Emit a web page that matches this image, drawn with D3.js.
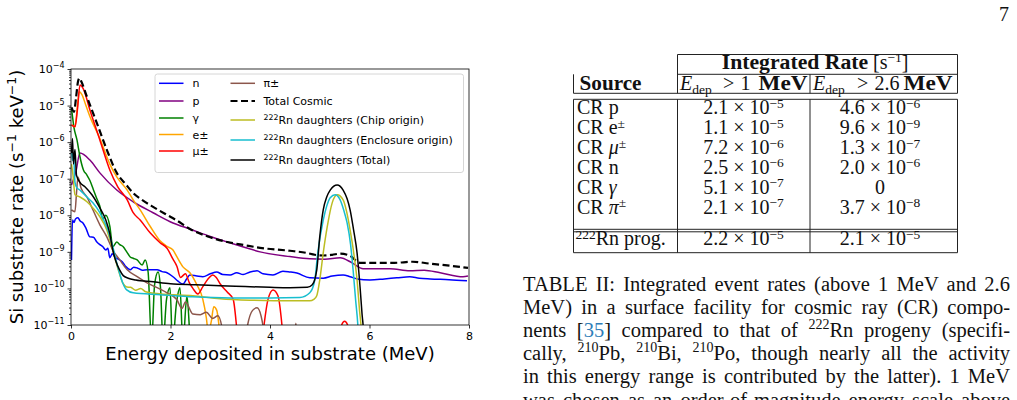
<!DOCTYPE html>
<html>
<head>
<meta charset="utf-8">
<script src="https://cdn.jsdelivr.net/npm/d3@7/dist/d3.min.js"></script>
<style>
  body { margin: 0; background: #fff; }
  svg { display: block; }
</style>
</head>
<body>
<div id="page"></div>
<script>
// ---- chart data: [energy deposited (MeV), log10 of rate (s^-1 keV^-1)] ----
// -12 means "below the bottom of the axis"
var nData = [[0.01,-9.22],[0.03,-8.13],[0.06,-8.2],[0.09,-8.1],[0.14,-8.07],[0.18,-8.15],[0.24,-8.21],[0.3,-8.35],[0.38,-8.59],[0.45,-8.6],[0.52,-8.73],[0.58,-8.8],[0.64,-8.86],[0.7,-8.95],[0.74,-8.9],[0.78,-9.16],[0.83,-9.05],[0.88,-9.14],[0.95,-9.2],[1.03,-9.27],[1.1,-9.4],[1.19,-9.49],[1.26,-9.42],[1.33,-9.44],[1.43,-9.5],[1.53,-9.49],[1.63,-9.49],[1.73,-9.49],[1.83,-9.54],[1.93,-9.57],[2.05,-9.68],[2.15,-9.8],[2.25,-9.88],[2.32,-9.75],[2.39,-9.63],[2.53,-9.66],[2.65,-9.68],[2.8,-9.6],[2.93,-9.55],[3.05,-9.62],[3.2,-9.63],[3.33,-9.57],[3.46,-9.62],[3.6,-9.55],[3.74,-9.52],[3.86,-9.6],[4.06,-9.63],[4.26,-9.53],[4.4,-9.55],[4.54,-9.58],[4.8,-9.71],[5.07,-9.72],[5.25,-9.66],[5.47,-9.63],[5.61,-9.68],[5.75,-9.74],[6.01,-9.77],[6.3,-9.74],[6.55,-9.71],[6.81,-9.68],[7.0,-9.72],[7.22,-9.74],[7.6,-9.76],[7.96,-9.79]];
var pData = [[0.01,-7.17],[0.1,-6.8],[0.18,-6.3],[0.38,-6.49],[0.58,-6.84],[0.92,-7.31],[1.25,-7.63],[1.65,-7.93],[2.05,-8.21],[2.4,-8.38],[2.8,-8.58],[3.14,-8.73],[3.5,-8.88],[3.8,-9.0],[4.4,-9.13],[4.8,-9.19],[5.1,-9.2],[5.41,-9.16],[5.65,-9.3],[5.87,-9.46],[6.41,-9.46],[6.81,-9.52],[7.1,-9.5],[7.42,-9.57],[7.88,-9.68],[7.98,-9.66]];
var gammaData = [[0.01,-5.07],[0.06,-5.6],[0.12,-5.94],[0.18,-6.4],[0.25,-6.76],[0.32,-6.9],[0.38,-7.05],[0.45,-7.3],[0.52,-7.55],[0.58,-7.75],[0.64,-8.1],[0.7,-8.0],[0.78,-8.3],[0.84,-8.86],[0.92,-8.73],[0.98,-8.8],[1.05,-8.86],[1.12,-9.0],[1.19,-9.14],[1.26,-9.18],[1.33,-9.22],[1.43,-9.36],[1.49,-9.22],[1.55,-9.55],[1.62,-11.5],[1.68,-9.9],[1.75,-9.55],[1.8,-10.0],[1.85,-11.5],[1.92,-10.3],[1.99,-9.98],[2.04,-11.5],[2.12,-10.4],[2.19,-9.98],[2.25,-11.5],[2.33,-10.2],[2.4,-11.5],[2.45,-12],[8,-12]];
var eData = [[0.01,-5.53],[0.08,-5.58],[0.13,-5.0],[0.17,-4.62],[0.22,-4.7],[0.3,-5.0],[0.38,-5.3],[0.58,-5.9],[0.78,-6.6],[0.92,-6.95],[1.13,-7.31],[1.25,-7.58],[1.39,-7.85],[1.59,-8.3],[1.79,-8.7],[1.93,-8.85],[2.05,-8.95],[2.13,-9.14],[2.25,-9.41],[2.39,-9.57],[2.53,-9.9],[2.65,-10.3],[2.72,-10.8],[2.76,-11.2],[2.82,-10.9],[2.87,-10.5],[2.93,-10.6],[2.99,-11.2],[3.05,-12],[8,-12]];
var muData = [[0.01,-5.53],[0.08,-5.58],[0.13,-5.1],[0.18,-4.44],[0.25,-4.55],[0.38,-5.12],[0.58,-5.94],[0.78,-6.76],[0.94,-7.22],[1.13,-7.58],[1.25,-7.93],[1.39,-8.13],[1.59,-8.48],[1.79,-8.75],[1.93,-8.9],[2.05,-9.2],[2.13,-9.4],[2.2,-9.7],[2.3,-9.6],[2.38,-9.85],[2.45,-10.0],[2.55,-10.15],[2.65,-9.95],[2.75,-9.75],[2.85,-9.63],[2.92,-9.7],[3.0,-9.88],[3.14,-10.1],[3.26,-10.3],[3.34,-11.2],[3.4,-12],[3.8,-12],[3.88,-11.0],[3.96,-10.3],[4.06,-10.04],[4.16,-10.2],[4.24,-11.0],[4.3,-12],[5.38,-12],[5.44,-11.0],[5.5,-10.9],[5.56,-11.0],[5.62,-12],[8,-12]];
var piData = [[0.01,-7.85],[0.08,-7.9],[0.11,-7.4],[0.14,-6.95],[0.2,-7.25],[0.32,-7.5],[0.44,-7.85],[0.58,-8.26],[0.72,-8.59],[0.84,-8.95],[0.98,-9.22],[1.13,-9.49],[1.33,-9.68],[1.53,-9.85],[1.73,-9.98],[1.93,-10.12],[2.13,-10.31],[2.23,-10.55],[2.3,-10.37],[2.45,-10.7],[2.6,-10.72],[2.72,-10.65],[2.85,-10.82],[2.95,-10.75],[3.05,-11.2],[3.1,-12],[3.45,-12],[3.55,-11.0],[3.65,-10.6],[3.74,-10.53],[3.82,-10.75],[3.88,-11.2],[3.95,-12],[4.45,-12],[4.52,-10.95],[4.58,-12],[8,-12]];
var cosmicData = [[0.01,-5.05],[0.06,-5.17],[0.1,-4.8],[0.14,-4.35],[0.17,-4.25],[0.21,-4.35],[0.32,-4.76],[0.52,-5.48],[0.72,-6.21],[0.92,-6.84],[1.1,-7.15],[1.25,-7.39],[1.45,-7.6],[1.65,-7.77],[1.93,-7.99],[2.1,-8.12],[2.4,-8.38],[2.75,-8.58],[3.14,-8.73],[3.5,-8.82],[3.8,-8.89],[4.4,-8.97],[4.74,-9.03],[4.9,-9.08],[5.07,-9.1],[5.25,-9.08],[5.41,-9.05],[5.61,-9.11],[5.81,-9.3],[6.15,-9.3],[6.5,-9.3],[6.87,-9.27],[7.2,-9.32],[7.42,-9.35],[7.98,-9.44]];
var rnChipData = [[0.01,-6.6],[0.04,-6.9],[0.08,-7.44],[0.18,-7.5],[0.32,-7.63],[0.44,-7.8],[0.58,-8.04],[0.72,-8.4],[0.84,-8.95],[0.95,-9.49],[1.04,-9.85],[1.12,-9.96],[1.2,-9.97],[1.3,-10.05],[1.4,-10.0],[1.5,-10.09],[1.8,-10.15],[2.45,-10.2],[3.0,-10.28],[3.6,-10.32],[4.5,-10.34],[4.8,-10.34],[4.88,-10.3],[4.94,-10.2],[5.0,-9.77],[5.07,-9.03],[5.15,-8.32],[5.25,-7.66],[5.35,-7.44],[5.47,-7.58],[5.54,-7.9],[5.61,-8.4],[5.68,-9.0],[5.75,-9.77],[5.8,-10.6],[5.84,-11.2],[5.87,-12],[8,-12]];
var rnEnclData = [[0.01,-6.15],[0.03,-6.5],[0.05,-6.3],[0.08,-7.1],[0.12,-7.25],[0.18,-7.31],[0.32,-7.5],[0.44,-7.66],[0.58,-7.93],[0.72,-8.32],[0.84,-8.86],[0.94,-9.41],[1.04,-9.85],[1.12,-10.04],[1.25,-10.12],[1.8,-10.17],[2.45,-10.23],[3.2,-10.26],[4.0,-10.26],[4.6,-10.25],[4.8,-10.12],[4.9,-9.77],[4.96,-9.03],[5.07,-8.13],[5.14,-7.75],[5.21,-7.52],[5.31,-7.44],[5.41,-7.58],[5.48,-7.85],[5.55,-8.21],[5.62,-8.8],[5.67,-9.49],[5.72,-10.3],[5.77,-11.1],[5.8,-12],[8,-12]];
var rnTotalData = [[0.01,-6.3],[0.03,-5.9],[0.05,-6.6],[0.08,-6.2],[0.11,-6.9],[0.18,-7.1],[0.28,-7.22],[0.42,-7.44],[0.58,-7.8],[0.7,-8.13],[0.78,-8.5],[0.84,-8.95],[0.9,-9.25],[0.98,-9.5],[1.05,-9.65],[1.15,-9.72],[1.3,-9.77],[1.65,-9.82],[2.0,-9.87],[2.5,-9.9],[3.0,-9.93],[3.5,-9.95],[4.0,-9.97],[4.4,-9.98],[4.75,-9.97],[4.85,-9.9],[4.94,-9.49],[5.0,-8.59],[5.07,-7.85],[5.14,-7.5],[5.21,-7.31],[5.35,-7.17],[5.47,-7.31],[5.55,-7.55],[5.61,-7.85],[5.68,-8.4],[5.75,-9.03],[5.81,-9.96],[5.85,-10.7],[5.88,-11.2],[5.9,-12],[8,-12]];

var seriesData = [nData, pData, gammaData, eData, muData, piData, cosmicData, rnChipData, rnEnclData, rnTotalData];
var seriesLabels = ["n", "p", "γ", "e±", "μ±", "π±", "Total Cosmic", "Rn daughters (Chip origin)", "Rn daughters (Enclosure origin)", "Rn daughters (Total)"];
var seriesIsotope = [null, null, null, null, null, null, null, "222", "222", "222"];
var seriesColors = ["#0000ff", "#800080", "#008000", "#ffa500", "#ff0000", "#8c564b", "#000000", "#bcbd22", "#17becf", "#000000"];

var xTicks = [0, 2, 4, 6, 8];
var yDecades = [-11, -10, -9, -8, -7, -6, -5, -4];

// ---- table data ----
var tableSources = ["p", "e", "μ", "n", "γ", "π", "Rn prog."];
var rateAbove1 = [2.1e-5, 1.1e-5, 7.2e-6, 2.5e-6, 5.1e-7, 2.1e-7, 2.2e-5];
var rateAbove26 = [4.6e-6, 9.6e-9, 1.3e-7, 2.0e-6, 0, 3.7e-8, 2.1e-5];

var W = 1017, H = 400;
var svg = d3.select("#page").append("svg")
    .attr("width", W)
    .attr("height", H);
svg.append("rect").attr("width", W).attr("height", H).attr("fill", "#fff");

// ================= chart =================
var plot = { left: 71, right: 469, top: 69, bottom: 325 };

var x = d3.scaleLinear()
    .domain([0, 8])
    .range([plot.left, plot.right]);

var y = d3.scaleLog()
    .domain([1e-11, 1e-4])
    .range([plot.bottom, plot.top]);

var chart = svg.append("g")
    .attr("font-family", "DejaVu Sans");

chart.append("clipPath").attr("id", "plotClip")
  .append("rect")
    .attr("x", plot.left).attr("y", plot.top)
    .attr("width", plot.right - plot.left)
    .attr("height", plot.bottom - plot.top);

var line = d3.line()
    .x(function(d){ return x(d[0]); })
    .y(function(d){ return y(Math.pow(10, d[1])); })
    .curve(d3.curveMonotoneX);

var lines = chart.append("g").attr("clip-path", "url(#plotClip)");
seriesData.forEach(function(data, i){
    lines.append("path")
        .attr("d", line(data))
        .attr("fill", "none")
        .attr("stroke", seriesColors[i])
        .attr("stroke-width", i === 6 ? 2.2 : 1.5)
        .attr("stroke-dasharray", i === 6 ? "7,3.5" : null)
        .attr("stroke-linejoin", "round");
});

// X axis
var xAxisCall = d3.axisBottom(x)
    .tickValues(xTicks)
    .tickSize(3.5)
    .tickSizeOuter(0)
    .tickPadding(3.5)
    .tickFormat(d3.format("d"));
var xAxisGroup = chart.append("g")
    .attr("transform", "translate(0," + plot.bottom + ")")
    .call(xAxisCall);

// Y axis, major
var yAxisCall = d3.axisLeft(y)
    .tickValues(yDecades.map(function(e){ return Math.pow(10, e); }))
    .tickSize(3.5)
    .tickSizeOuter(0)
    .tickPadding(3);
var yAxisGroup = chart.append("g")
    .attr("transform", "translate(" + plot.left + ",0)")
    .call(yAxisCall);

// Y axis, minor
var minor = [];
yDecades.slice(0, -1).forEach(function(e){
    for (var k = 2; k <= 9; k++) minor.push(k * Math.pow(10, e));
});
chart.append("g")
    .attr("transform", "translate(" + plot.left + ",0)")
    .call(d3.axisLeft(y).tickValues(minor).tickSize(2).tickSizeOuter(0).tickFormat(""))
    .select(".domain").remove();

[xAxisGroup, yAxisGroup].forEach(function(gr){
    gr.attr("font-family", "DejaVu Sans").attr("font-size", 11);
    gr.select(".domain").remove();
    gr.selectAll(".tick text").attr("fill", "#000");
});
chart.selectAll(".tick line").attr("stroke", "#000").attr("stroke-width", 0.8);

yAxisGroup.selectAll(".tick text").each(function(d){
    var t = d3.select(this);
    var e = Math.round(Math.log10(d));
    t.text(null);
    t.append("tspan").text("10");
    t.append("tspan").attr("dy", -5).attr("font-size", 8).text("\u2212" + Math.abs(e));
});

// frame
chart.append("rect")
    .attr("x", plot.left).attr("y", plot.top)
    .attr("width", plot.right - plot.left)
    .attr("height", plot.bottom - plot.top)
    .attr("fill", "none")
    .attr("stroke", "#000")
    .attr("stroke-width", 0.8);

// axis labels
chart.append("text")
    .attr("x", (plot.left + plot.right) / 2)
    .attr("y", 360)
    .attr("text-anchor", "middle")
    .attr("font-size", 18)
    .text("Energy deposited in substrate (MeV)");

var yLabel = chart.append("text")
    .attr("transform", "translate(23," + ((plot.top + plot.bottom) / 2) + ") rotate(-90)")
    .attr("text-anchor", "middle")
    .attr("font-size", 18);
yLabel.append("tspan").text("Si substrate rate (s");
yLabel.append("tspan").attr("dy", -7).attr("font-size", 12.5).text("\u22121");
yLabel.append("tspan").attr("dy", 7).text(" keV");
yLabel.append("tspan").attr("dy", -7).attr("font-size", 12.5).text("\u22121");
yLabel.append("tspan").attr("dy", 7).text(")");

// legend
var legend = chart.append("g");
legend.append("rect")
    .attr("x", 155).attr("y", 74)
    .attr("width", 308.5).attr("height", 98.5)
    .attr("rx", 2.5)
    .attr("fill", "#fff").attr("fill-opacity", 0.8)
    .attr("stroke", "#cccccc").attr("stroke-width", 0.8);

var legendCols = [
    { lineX: 159, textX: 192.5, rows: [83.3, 101, 118, 134.5, 151] },
    { lineX: 230.5, textX: 263.5, rows: [83.3, 101, 120, 140, 160] }
];
seriesLabels.forEach(function(label, i){
    var col = legendCols[Math.floor(i / 5)];
    var ry = col.rows[i % 5];
    legend.append("line")
        .attr("x1", col.lineX).attr("x2", col.lineX + 24.5)
        .attr("y1", ry).attr("y2", ry)
        .attr("stroke", seriesColors[i])
        .attr("stroke-width", i === 6 ? 2.2 : 1.5)
        .attr("stroke-dasharray", i === 6 ? "7,3.5" : null);
    var t = legend.append("text")
        .attr("x", col.textX).attr("y", ry + 4)
        .attr("font-size", 11);
    if (seriesIsotope[i]) {
        t.append("tspan").attr("dy", -4).attr("font-size", 7.8).text(seriesIsotope[i]);
        t.append("tspan").attr("dy", 4).text(label);
    } else {
        t.text(label);
    }
});

// ================= page number =================
var serif = "Liberation Serif";
svg.append("text")
    .attr("x", 1009).attr("y", 20.5)
    .attr("text-anchor", "end")
    .attr("font-family", serif)
    .attr("font-size", 20)
    .attr("fill", "#111")
    .text("7");

// ================= table =================
var table = svg.append("g")
    .attr("font-family", serif)
    .attr("font-size", 20)
    .attr("fill", "#111");

var tx = { left: 573.5, c1: 677.5, c2: 810, right: 957.5 };
var ty = { top: 54.5, h1: 74.3, h2: 93.3, h3: 99.3, r1: 229.3, r2: 231.8, bottom: 252.7 };
var rowBase = [114, 134, 154, 173.5, 193.5, 213.5, 245];
var supSize = 13.5, supRise = 6.5;

function hline(x1, x2, yy) {
    table.append("line").attr("x1", x1).attr("x2", x2).attr("y1", yy).attr("y2", yy)
        .attr("stroke", "#222").attr("stroke-width", 1);
}
function vline(xx, y1, y2) {
    table.append("line").attr("x1", xx).attr("x2", xx).attr("y1", y1).attr("y2", y2)
        .attr("stroke", "#222").attr("stroke-width", 1);
}
hline(tx.c1, tx.right, ty.top);
hline(tx.c1, tx.right, ty.h1);
hline(tx.left, tx.right, ty.h2);
hline(tx.left, tx.right, ty.h3);
hline(tx.left, tx.right, ty.r1);
hline(tx.left, tx.right, ty.r2);
hline(tx.left, tx.right, ty.bottom);
vline(tx.left, ty.h1, ty.h2);
vline(tx.c1, ty.top, ty.h2);
vline(tx.c2, ty.h1, ty.h2);
vline(tx.right, ty.top, ty.h2);
vline(tx.left, ty.h3, ty.bottom);
vline(tx.c1, ty.h3, ty.bottom);
vline(tx.c2, ty.h3, ty.bottom);
vline(tx.right, ty.h3, ty.bottom);

// header: bold pieces are widened to the extended bold face of the original
table.append("text")
    .attr("x", 721.7).attr("y", 68.5)
    .attr("font-weight", "bold")
    .attr("textLength", 146.5)
    .attr("lengthAdjust", "spacingAndGlyphs")
    .text("Integrated Rate");
var unit = table.append("text").attr("x", 873).attr("y", 68.5);
unit.append("tspan").text("[s");
unit.append("tspan").attr("dy", -supRise).attr("font-size", supSize).text("\u22121");
unit.append("tspan").attr("dy", supRise).text("]");

table.append("text")
    .attr("x", 579.5).attr("y", 90)
    .attr("font-weight", "bold")
    .attr("textLength", 62)
    .attr("lengthAdjust", "spacingAndGlyphs")
    .text("Source");

function edepHeader(x0, thr, gtX, thrX, mevX) {
    var t = table.append("text").attr("x", x0).attr("y", 90);
    t.append("tspan").attr("font-style", "italic").text("E");
    t.append("tspan").attr("dy", 3.5).attr("font-size", supSize).text("dep");
    table.append("text").attr("x", gtX).attr("y", 90).text(">");
    table.append("text").attr("x", thrX).attr("y", 90).text(thr);
    table.append("text")
        .attr("x", mevX).attr("y", 90)
        .attr("font-weight", "bold")
        .attr("textLength", 49)
        .attr("lengthAdjust", "spacingAndGlyphs")
        .text("MeV");
}
edepHeader(680, "1", 723, 740.5, 758.5);
edepHeader(813, "2.6", 857, 874.5, 903.5);

function sciText(cx, yy, v) {
    var t = table.append("text").attr("x", cx).attr("y", yy).attr("text-anchor", "middle");
    if (v === 0) { t.text("0"); return; }
    var parts = v.toExponential(1).split("e");
    t.append("tspan").text(parts[0] + " \u00d7 10");
    t.append("tspan").attr("dy", -supRise).attr("font-size", supSize).text("\u2212" + Math.abs(+parts[1]));
}

tableSources.forEach(function(src, i){
    var yy = rowBase[i];
    var t = table.append("text").attr("x", 577).attr("y", yy);
    if (i === tableSources.length - 1) {
        t.attr("x", 575.5);
        t.append("tspan").attr("dy", -supRise).attr("font-size", supSize).text("222");
        t.append("tspan").attr("dy", supRise).text(src);
    } else {
        t.append("tspan").text("CR ");
        var italic = (src === "μ" || src === "γ" || src === "π");
        t.append("tspan").attr("font-style", italic ? "italic" : null).text(src);
        if (src === "e" || src === "μ" || src === "π") {
            t.append("tspan").attr("dy", -supRise).attr("font-size", supSize).text("\u00b1");
        }
    }
    sciText(743.5, yy, rateAbove1[i]);
    sciText(880, yy, rateAbove26[i]);
});

// ================= caption =================
var captionLines = [
    [["TABLE II: Integrated event rates (above 1 MeV and 2.6"]],
    [["MeV) in a surface facility for cosmic ray (CR) compo-"]],
    [["nents ["], ["35", "cite"], ["] compared to that of "], ["222", "sup"], ["Rn progeny (specifi-"]],
    [["cally, "], ["210", "sup"], ["Pb, "], ["210", "sup"], ["Bi, "], ["210", "sup"], ["Po, though nearly all the activity"]],
    [["in this energy range is contributed by the latter). 1 MeV"]],
    [["was chosen as an order-of-magnitude energy scale above"]]
];
var capLeft = 523, capRight = 1010, capTop = 291, capStep = 23.1;

var caption = svg.append("g")
    .attr("font-family", serif)
    .attr("font-size", 20.5)
    .attr("fill", "#111");

captionLines.forEach(function(segs, i){
    var t = caption.append("text")
        .attr("x", capLeft)
        .attr("y", capTop + i * capStep);
    var nSpaces = 0;
    var shifted = false;
    segs.forEach(function(s){
        var ts = t.append("tspan").text(s[0]);
        if (s[1] === "sup") {
            ts.attr("dy", -8).attr("font-size", 14);
            shifted = true;
        } else if (shifted) {
            ts.attr("dy", 8);
            shifted = false;
        }
        if (s[1] === "cite") ts.attr("fill", "#2e7db8");
        nSpaces += (s[0].match(/ /g) || []).length;
    });
    var natural = t.node().getComputedTextLength();
    if (nSpaces > 0) {
        t.attr("word-spacing", ((capRight - capLeft) - natural) / nSpaces);
    }
});
</script>
</body>
</html>
